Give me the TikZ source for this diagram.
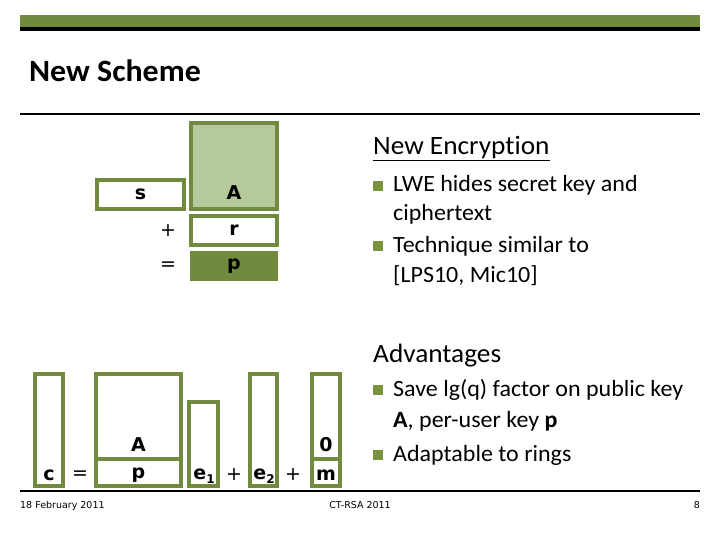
\documentclass[tikz,border=0pt]{standalone}
\usepackage{fontspec}
\setmainfont{Carlito}[Ligatures=NoCommon,FakeStretch=1.03]
\newfontfamily\vfont{DejaVu Sans}
\newfontfamily\ffont{DejaVu Sans}
\definecolor{olive}{HTML}{708B3D}
\definecolor{lightolive}{HTML}{B6C99C}
\definecolor{bulletgreen}{HTML}{77933C}
\begin{document}
\begin{tikzpicture}[x=1pt,y=-1pt,
  vbox/.style={draw=olive,line width=4pt,fill=white,inner sep=0pt,rectangle},
  vlab/.style={font=\vfont\bfseries\fontsize{19}{22}\selectfont,inner sep=0pt},
  oplab/.style={font=\vfont\fontsize{19}{22}\selectfont,inner sep=0pt},
  head/.style={font=\fontsize{26.5}{30}\selectfont,anchor=base west,inner sep=0pt},
  btxt/.style={font=\fontsize{23.3}{27}\selectfont,anchor=base west,inner sep=0pt},
  bul/.style={fill=bulletgreen,minimum size=9.5pt,inner sep=0pt,rectangle},
  foot/.style={font=\ffont\fontsize{9.5}{11}\selectfont,inner sep=0pt,anchor=base}]
\useasboundingbox (0,0) rectangle (720,540);
% header
\fill[olive] (20,15) rectangle (700,27);
\fill[black] (20,27) rectangle (700,31);
\node[font=\bfseries\fontsize{31}{34}\selectfont,anchor=base west,inner sep=0pt] (title) at (29,82) {New Scheme};
\draw[line width=1.2pt] (20,114) -- (700,114);
\draw[line width=1.2pt] (20,491) -- (700,491);
% footer
\node[foot,anchor=base west] (date) at (20,508) {18 February 2011};
\node[foot] (conf) at (360,508) {CT-RSA 2011};
\node[foot,anchor=base east] (page) at (700,508) {8};
% top diagram
\node[vbox,minimum width=87pt,minimum height=29pt] (sbox) at (140.5,194.5) {};
\node[vlab] at (sbox.center) {s};
\node[vbox,fill=lightolive,minimum width=86pt,minimum height=86pt] (Abox) at (234,166) {};
\node[vlab] (Alab) at (234,193) {A};
\node[vbox,minimum width=86pt,minimum height=29pt] (rbox) at (234,230.5) {};
\node[vlab] at (rbox.center) {r};
\node[fill=olive,minimum width=88pt,minimum height=30pt,inner sep=0pt] (pbox) at (234,266) {};
\node[vlab] at (pbox.center) {p};
\node[oplab] (plus1) at (168,231) {+};
\node[oplab] (eq1) at (168,266) {=};
% bottom diagram
\node[vbox,minimum width=28pt,minimum height=112pt] (cbox) at (49,430) {};
\node[vbox,minimum width=85pt,minimum height=112pt] (Apbox) at (138.5,430) {};
\draw[olive,line width=4pt] (Apbox.west |- 0,459) -- (Apbox.east |- 0,459);
\node[vbox,minimum width=29pt,minimum height=84pt] (e1box) at (203.5,444) {};
\node[vbox,minimum width=27pt,minimum height=112pt] (e2box) at (263.5,430) {};
\node[vbox,minimum width=28pt,minimum height=112pt] (mbox) at (326,430) {};
\draw[olive,line width=4pt] (mbox.west |- 0,459) -- (mbox.east |- 0,459);
\node[vlab] (clab) at (49,475) {c};
\node[oplab] (eq2) at (80,475) {=};
\node[vlab] (A2lab) at (138.5,445) {A};
\node[vlab] (p2lab) at (138.5,475) {p};
\node[vlab] (e1lab) at (204,476) {e\raisebox{-0.35ex}{\fontsize{12}{14}\selectfont 1}};
\node[oplab] (plus2) at (234,475) {+};
\node[vlab] (e2lab) at (264,476) {e\raisebox{-0.35ex}{\fontsize{12}{14}\selectfont 2}};
\node[oplab] (plus3) at (293,475) {+};
\node[vlab] (zlab) at (326,445) {0};
\node[vlab] (mlab) at (326,475) {m};
% right text
\node[head] (enc) at (373,155) {\underline{New Encryption}};
\node[bul] (b1) at (378,186) {};
\node[btxt] (t1a) at (393,192) {LWE hides secret key and};
\node[btxt] (t1b) at (393,221) {ciphertext};
\node[bul] (b2) at (378,246) {};
\node[btxt] (t2a) at (393,252) {Technique similar to};
\node[btxt] (t2b) at (393,282) {[LPS10, Mic10]};
\node[head] (adv) at (373,362) {Advantages};
\node[bul] (b3) at (378,390) {};
\node[btxt] (t3a) at (393,396) {Save lg(q) factor on public key};
\node[btxt] (t3b) at (393,427) {\textbf{A}, per-user key \textbf{p}};
\node[bul] (b4) at (378,455) {};
\node[btxt] (t4) at (393,461) {Adaptable to rings};
\end{tikzpicture}
\end{document}
